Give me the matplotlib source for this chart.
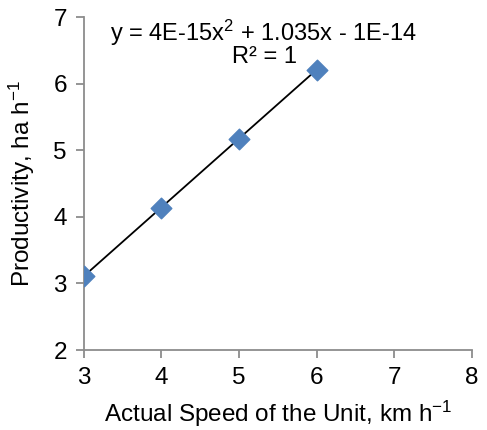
import numpy as np
import matplotlib.pyplot as plt

plt.rcParams['font.family'] = ['Liberation Sans', 'DejaVu Sans']
plt.rcParams['mathtext.fontset'] = 'custom'
plt.rcParams['mathtext.rm'] = 'Liberation Sans'
plt.rcParams['mathtext.it'] = 'Liberation Sans'

speed = [3, 4, 5, 6]
productivity = [3.105, 4.14, 5.175, 6.21]

fig = plt.figure(figsize=(4.87, 4.30), dpi=100)
ax = fig.add_axes([0.1715, 0.186, 0.7975, 0.774])

# polynomial trendline (order 2) through the measured points
coef = np.polyfit(speed, productivity, 2)
xs = np.linspace(min(speed), max(speed), 50)
ax.plot(xs, np.polyval(coef, xs), color='black', lw=1.3, zorder=2)
ax.scatter(speed, productivity, marker='D', s=110, color='#4F81BD',
           edgecolors='#4F81BD', zorder=3)

ax.set_xlim(3, 8)
ax.set_ylim(2, 7)
ax.set_xticks(range(3, 9))
ax.set_yticks(range(2, 8))

for side in ('top', 'right'):
    ax.spines[side].set_visible(False)
for side in ('left', 'bottom'):
    ax.spines[side].set_color('#8c8c8c')
    ax.spines[side].set_linewidth(1.3)
ax.tick_params(direction='out', length=6, width=1.3, color='#8c8c8c',
               labelsize=17.5, pad=6)

ax.set_xlabel('Actual Speed of the Unit, km h$^{-1}$', fontsize=17.5, labelpad=7)
ax.set_ylabel('Productivity, ha h$^{-1}$', fontsize=17.5, labelpad=12)

ax.text(5.32, 6.76, 'y = 4E-15x$^{2}$ + 1.035x - 1E-14', fontsize=17,
        ha='center', va='center')
ax.text(5.33, 6.40, 'R² = 1', fontsize=17, ha='center', va='center')

fig.savefig('out.png', dpi=100)
